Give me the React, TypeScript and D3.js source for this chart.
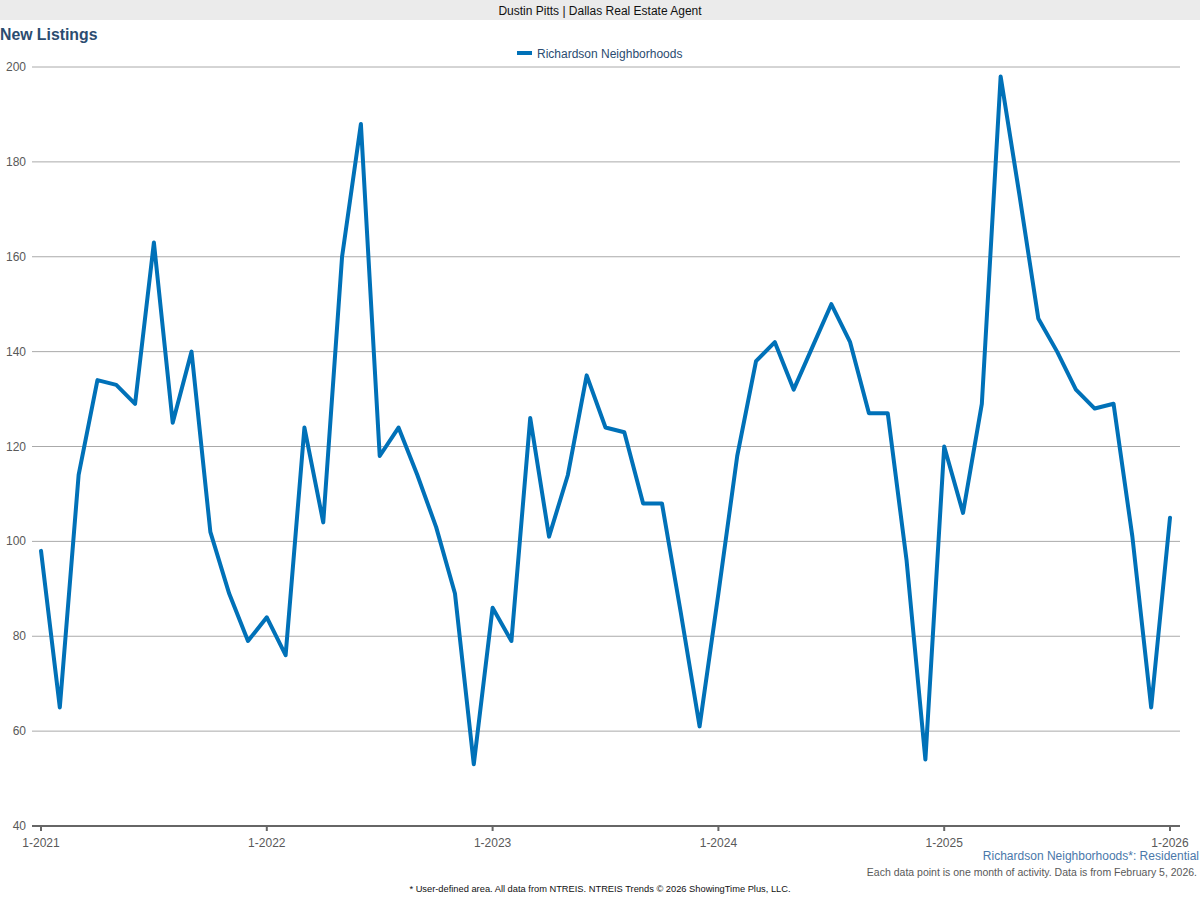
import React from "react";
import * as d3 from "d3";

const months: string[] = (() => {
  const out: string[] = [];
  for (let y = 2021; y <= 2026; y++) {
    for (let m = 1; m <= 12; m++) {
      if (y === 2026 && m > 1) break;
      out.push(`${m}-${y}`);
    }
  }
  return out;
})();

const newListings: number[] = [
  // 2021
  98, 65, 114, 134, 133, 129, 163, 125, 140, 102, 89, 79,
  // 2022
  84, 76, 124, 104, 160, 188, 118, 124, 114, 103, 89, 53,
  // 2023
  86, 79, 126, 101, 114, 135, 124, 123, 108, 108, 85, 61,
  // 2024
  89, 118, 138, 142, 132, 141, 150, 142, 127, 127, 96, 54,
  // 2025
  120, 106, 129, 198, 173, 147, 140, 132, 128, 129, 101, 65,
  // 2026
  105,
];

const yTicks: number[] = [40, 60, 80, 100, 120, 140, 160, 180, 200];
const xTickLabels: string[] = ["1-2021", "1-2022", "1-2023", "1-2024", "1-2025", "1-2026"];

const seriesName = "Richardson Neighborhoods";
const headerText = "Dustin Pitts | Dallas Real Estate Agent";
const titleText = "New Listings";
const areaText = "Richardson Neighborhoods*: Residential";
const noteText = "Each data point is one month of activity. Data is from February 5, 2026.";
const footerText = "* User-defined area. All data from NTREIS. NTREIS Trends © 2026 ShowingTime Plus, LLC.";

const FONT = "'Liberation Sans', Arial, Helvetica, sans-serif";
const LINE_COLOR = "#0071b8";
const TITLE_COLOR = "#2b4c70";

export default function App() {
  const W = 1200;
  const H = 900;
  const plotLeft = 41;
  const plotRight = 1170;
  const plotTop = 67;
  const plotBottom = 826;

  const x = d3
    .scalePoint<string>()
    .domain(months)
    .range([plotLeft, plotRight]);
  const y = d3.scaleLinear().domain([40, 200]).range([plotBottom, plotTop]);

  const line = d3
    .line<number>()
    .x((_, i) => x(months[i]) as number)
    .y((d) => y(d));

  const pathD = line(newListings) || "";

  return (
    <svg
      width={W}
      height={H}
      style={{ position: "absolute", left: 0, top: 0, background: "#fff" }}
      fontFamily={FONT}
    >
      <rect x={0} y={0} width={W} height={20} fill="#ebebeb" />
      <text x={600} y={15} textAnchor="middle" fontSize={12} fill="#111">
        {headerText}
      </text>
      <text x={0} y={40} fontSize={15.8} fontWeight="bold" fill={TITLE_COLOR}>
        {titleText}
      </text>

      {/* legend */}
      <line x1={517} x2={532} y1={53} y2={53} stroke={LINE_COLOR} strokeWidth={4} />
      <text x={537} y={58} fontSize={12} fill={TITLE_COLOR}>
        {seriesName}
      </text>

      {/* gridlines and y labels */}
      {yTicks.map((t) => (
        <g key={t}>
          {t !== 40 && (
            <line x1={32} x2={1180} y1={y(t)} y2={y(t)} stroke="#aaaaaa" strokeWidth={1} />
          )}
          <text x={26} y={y(t) + 4} textAnchor="end" fontSize={12} fill="#595959">
            {t}
          </text>
        </g>
      ))}

      {/* x axis */}
      <line x1={32} x2={1180} y1={plotBottom} y2={plotBottom} stroke="#666" strokeWidth={2} />
      {xTickLabels.map((lab) => (
        <g key={lab}>
          <line
            x1={x(lab) as number}
            x2={x(lab) as number}
            y1={plotBottom}
            y2={plotBottom + 5}
            stroke="#666"
            strokeWidth={2}
          />
          <text
            x={x(lab) as number}
            y={plotBottom + 21}
            textAnchor="middle"
            fontSize={12}
            fill="#595959"
          >
            {lab}
          </text>
        </g>
      ))}

      {/* series */}
      <path
        d={pathD}
        fill="none"
        stroke={LINE_COLOR}
        strokeWidth={4}
        strokeLinejoin="round"
        strokeLinecap="round"
      />

      <text x={1199} y={860} textAnchor="end" fontSize={12} fill="#4a78aa">
        {areaText}
      </text>
      <text x={1197} y={876} textAnchor="end" fontSize={10.5} fill="#595959">
        {noteText}
      </text>
      <text x={600} y={892} textAnchor="middle" fontSize={9.3} fill="#111">
        {footerText}
      </text>
    </svg>
  );
}
